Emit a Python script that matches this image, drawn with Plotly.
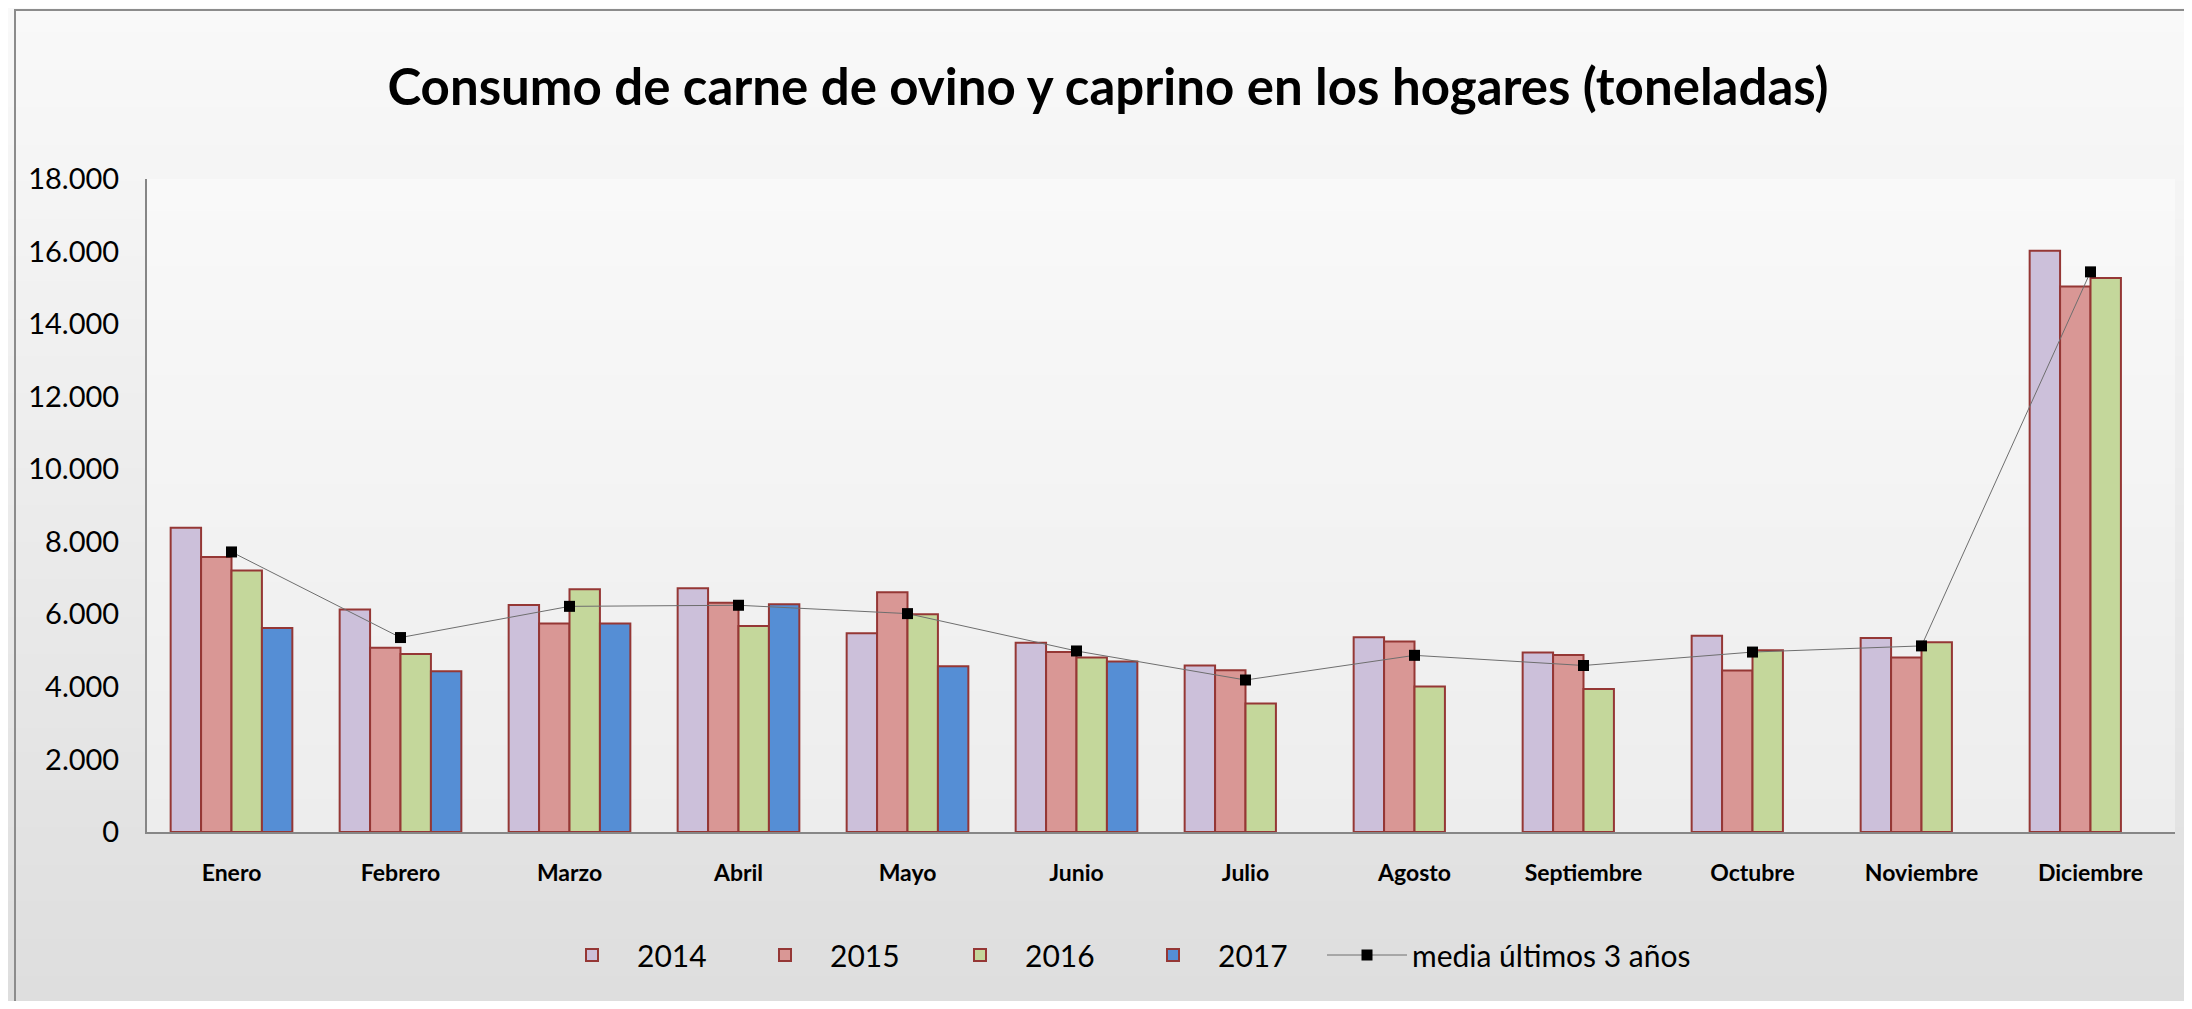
import plotly.graph_objects as go

months = ["Enero", "Febrero", "Marzo", "Abril", "Mayo", "Junio", "Julio",
          "Agosto", "Septiembre", "Octubre", "Noviembre", "Diciembre"]
v2014 = [8390, 6130, 6260, 6720, 5480, 5220, 4590, 5370, 4950, 5410, 5350, 16020]
v2015 = [7580, 5080, 5750, 6320, 6610, 4960, 4460, 5250, 4880, 4450, 4810, 15040]
v2016 = [7210, 4910, 6690, 5680, 6000, 4810, 3540, 4010, 3940, 5010, 5230, 15270]
v2017 = [5620, 4430, 5750, 6280, 4570, 4700, None, None, None, None, None, None]
media = [7720, 5360, 6220, 6250, 6020, 4990, 4190, 4870, 4590, 4960, 5130, 15440]
y_ticks = [0, 2000, 4000, 6000, 8000, 10000, 12000, 14000, 16000, 18000]

FONT = "Lato, Carlito, Calibri, Open Sans, sans-serif"
EDGE = "#953735"

# page offset (default body margin of the html page)
OX, OY = 8, 8
PW, PH = 2192, 1009
W, H = PW - 2 * OX, PH - 2 * OY
# plot area in page pixels
PL, PR, PT, PB = 147, 2175, 179, 832
L, T = PL - OX, PT - OY
R, B = W - (PR - OX), H - (PB - OY)
pw, ph = W - L - R, H - T - B

def py2paper(py):  # page pixel y -> paper y
    return ((PB - OY) - (py - OY)) / ph

def px2paper(px):  # page pixel x -> paper x
    return ((px - OX) - L) / pw

def lerp(c0, c1, t):
    return "#%02x%02x%02x" % tuple(int(round(a + (b - a) * t)) for a, b in zip(c0, c1))

# legend text start positions (page px)
legend_text_x = [637, 830, 1025, 1218, 1412]
legend_ids = ["legend", "legend2", "legend3", "legend4", "legend5"]

fig = go.Figure()
series = [("2014", v2014, "#ccc0da"), ("2015", v2015, "#d99795"),
          ("2016", v2016, "#c4d79b"), ("2017", v2017, "#558ed5")]
for k, (name, vals, col) in enumerate(series):
    fig.add_trace(go.Bar(x=months, y=vals, name=name, legend=legend_ids[k],
                         marker=dict(color=col, line=dict(color=EDGE, width=2))))
fig.add_trace(go.Scatter(x=months, y=media, name="media últimos 3 años",
                         legend=legend_ids[4], mode="lines+markers",
                         line=dict(color="#6e6e6e", width=1),
                         marker=dict(symbol="square", size=11, color="#000000")))

shapes = []
N = 80
top_c, bot_c = (249, 249, 249), (222, 222, 222)
for i in range(N):
    y0p = OY + i * H / N
    y1p = OY + (i + 1) * H / N + 1
    shapes.append(dict(type="rect", xref="paper", yref="paper", layer="below",
                       x0=px2paper(0), x1=px2paper(PW + 5),
                       y0=py2paper(y1p), y1=py2paper(y0p),
                       fillcolor=lerp(top_c, bot_c, i / (N - 1)), line=dict(width=0)))
M = 60
pt, pb = (249, 249, 249), (237, 237, 237)
for i in range(M):
    shapes.append(dict(type="rect", xref="x domain", yref="y domain", layer="below",
                       x0=0, x1=1, y0=1 - (i + 1) / M - 0.002, y1=1 - i / M,
                       fillcolor=lerp(pt, pb, i / (M - 1)), line=dict(width=0)))
shapes.append(dict(type="rect", xref="paper", yref="paper", layer="below",
                   x0=px2paper(15), x1=px2paper(PW + 20),
                   y0=py2paper(PH + 20), y1=py2paper(10),
                   line=dict(color="#8c8c8c", width=2), fillcolor="rgba(0,0,0,0)"))

legend_style = dict(orientation="h", xanchor="left", yanchor="middle",
                    y=py2paper(955), font=dict(family=FONT, size=30, color="#000000"),
                    bgcolor="rgba(0,0,0,0)", itemwidth=80)
legends = {lid: dict(legend_style, x=px2paper(tx - 90))
           for lid, tx in zip(legend_ids, legend_text_x)}

fig.update_layout(
    width=W, height=H,
    margin=dict(l=L, r=R, t=T, b=B, autoexpand=False),
    paper_bgcolor="#ececec",
    plot_bgcolor="rgba(0,0,0,0)",
    separators=",.",
    barmode="group", bargap=0.28, bargroupgap=0,
    shapes=shapes,
    title=dict(text="<b>Consumo de carne de ovino y caprino en los hogares (toneladas)</b>",
               font=dict(family=FONT, size=51, color="#000000"),
               xref="container", x=(1108 - OX) / W, xanchor="center",
               yref="container", y=1 - (87 - OY) / H, yanchor="middle"),
    font=dict(family=FONT, color="#000000"),
    showlegend=True,
    **legends,
)
fig.update_xaxes(range=[-0.5, 11.5], showgrid=False, showline=True, linecolor="#868686",
                 linewidth=2, ticks="", tickfont=dict(family=FONT, size=23, color="#000000"),
                 ticklabelstandoff=19, tickprefix="<b>", ticksuffix="</b>")
fig.update_yaxes(range=[0, 18000], tickvals=y_ticks, tickformat=",d",
                 showgrid=False, zeroline=False, showline=True, linecolor="#868686",
                 linewidth=2, ticks="", tickfont=dict(family=FONT, size=29, color="#000000"),
                 ticklabelstandoff=20)

fig.write_html("out.html")
